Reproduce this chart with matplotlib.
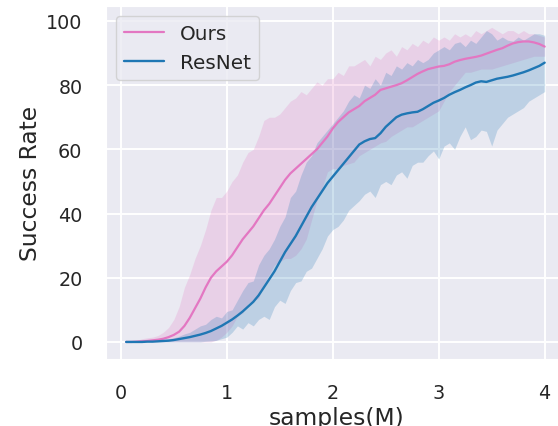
import numpy as np
import matplotlib
matplotlib.use("Agg")
import matplotlib.pyplot as plt
import seaborn as sns

# samples in millions, 0.05 step
samples = np.round(np.arange(1, 81) * 0.05, 2)

ours_mean = [0, 0, 0.1, 0.2, 0.3, 0.5, 0.7, 1.0, 1.5, 2.2,
             3.2, 5, 7.5, 10.5, 13.5, 17, 20, 22, 23.5, 25,
             27, 29.5, 32, 34, 36, 38.5, 41, 43, 45.5, 48,
             50.5, 52.5, 54, 55.5, 57, 58.5, 60, 62, 64, 66.5,
             68.5, 70, 71.5, 72.5, 73.5, 75, 76, 77, 78.5, 79,
             79.5, 80, 80.6, 81.5, 82.5, 83.5, 84.3, 85, 85.4, 85.8,
             86, 86.5, 87.3, 87.8, 88.2, 88.5, 88.8, 89.2, 89.8, 90.4,
             91, 91.5, 92.3, 93, 93.4, 93.6, 93.6, 93.3, 92.8, 92]
ours_upper = [0, 0.3, 0.5, 1, 1.3, 1.5, 2, 3, 4.5, 7,
              11, 17, 21, 26, 30, 35, 41, 45, 45, 47,
              50, 52, 56, 59, 60, 64, 69, 70, 70, 71,
              73, 75, 76, 78, 77, 79, 81, 80, 82, 82,
              84, 83, 86, 86, 87, 88, 86, 89, 88, 90,
              91, 89, 92, 91, 93, 92, 94, 93, 95, 94,
              95, 94, 96, 95, 96, 95, 97, 96, 97, 98,
              97, 96, 97, 97, 96, 97, 96, 96, 95.5, 95]
ours_lower = [0, 0, 0, 0, 0, 0, 0, 0, 0, 0,
              0, 0, 0, 0, 0, 0, 0, 0.5, 1.5, 3,
              5, 8, 9, 12, 13, 13.5, 18, 21, 24, 25,
              26, 26, 27, 29, 32, 38, 44, 48, 53, 54,
              54, 55, 55.5, 56, 58, 59, 60, 61, 62, 62.5,
              64, 65, 66, 67, 67, 68, 69, 70, 71, 72,
              75, 78, 80, 82, 84, 84, 84.5, 85, 85, 85,
              85.5, 86, 86.5, 87, 87.5, 88, 88.5, 89, 89, 89]

resnet_mean = [0, 0, 0, 0, 0.1, 0.1, 0.2, 0.3, 0.4, 0.6,
               0.9, 1.2, 1.5, 1.9, 2.3, 2.8, 3.4, 4.2, 5, 6,
               7, 8.2, 9.5, 11, 12.5, 14.5, 17, 19.5, 22, 25,
               28, 30.5, 33, 36, 39, 42, 44.5, 47, 49.5, 51.5,
               53.5, 55.5, 57.5, 59.5, 61.5, 62.5, 63.2, 63.5, 65, 67,
               68.5, 70, 70.8, 71.2, 71.5, 71.7, 72.5, 73.5, 74.5, 75.2,
               76, 77, 77.8, 78.5, 79.3, 80, 80.8, 81.2, 81, 81.5,
               82, 82.3, 82.6, 83, 83.5, 84, 84.6, 85.3, 86, 87]
resnet_upper = [0, 0, 0.2, 0.3, 0.4, 0.5, 0.6, 0.8, 1, 1.3,
                1.8, 2.5, 3, 4, 5, 5.5, 7, 8, 7.5, 9.5,
                10, 13, 16, 18.5, 19, 24, 27, 29, 32, 36,
                39, 45, 47, 52, 56, 58, 62, 64, 66, 68,
                70, 72, 75, 77, 76, 80, 79, 82, 80, 84,
                83, 86, 85, 87, 86, 88, 87, 88, 90, 91,
                92, 91, 93, 93.5, 92, 94, 93, 95, 97, 96,
                94, 95, 94, 93.7, 95, 94, 95, 96, 96, 95.5]
resnet_lower = [0, 0, 0, 0, 0, 0, 0, 0, 0, 0,
                0, 0, 0, 0, 0, 0.2, 0.3, 0.5, 1, 1.5,
                3, 5, 4, 6, 5, 7, 8, 7, 11, 13,
                12, 16, 18.5, 19, 22, 23, 26, 29, 33, 35,
                36, 38, 41, 42.5, 44, 46, 47, 45, 49, 50,
                49, 52, 53, 51, 55, 56, 56, 58, 59.5, 57,
                61, 62, 60, 64, 67, 63, 64, 66, 65.6, 61,
                66, 68, 70, 71, 72, 73, 75, 76, 77, 78]

sns.set_style("darkgrid")
plt.rcParams['font.family'] = ['DejaVu Sans']

fig = plt.figure(figsize=(5.58, 4.27), dpi=100)
ax = fig.add_axes([0.19, 0.157, 0.826, 0.827])

pink = '#e377c2'
blue = '#1f77b4'

ax.plot(samples, ours_mean, color=pink, lw=1.6, label='Ours')
ax.fill_between(samples, ours_lower, ours_upper, color=pink, alpha=0.22, lw=0)
ax.plot(samples, resnet_mean, color=blue, lw=1.7, label='ResNet')
ax.fill_between(samples, resnet_lower, resnet_upper, color=blue, alpha=0.22, lw=0)

ax.set_xlim(-0.14, 4.21)
ax.set_ylim(-5.3, 104.7)
ax.set_xticks([0, 1, 2, 3, 4])
ax.set_yticks([0, 20, 40, 60, 80, 100])
ax.tick_params(labelsize=13.8, length=0, pad=17)
ax.set_xlabel('samples(M)', fontsize=16.8, labelpad=3)
ax.set_ylabel('Success Rate', fontsize=16.8, labelpad=3)
ax.grid(color='white', lw=1.4)

ax.legend(loc='upper left', fontsize=14.4, frameon=True)

fig.savefig('out.png', dpi=100)
